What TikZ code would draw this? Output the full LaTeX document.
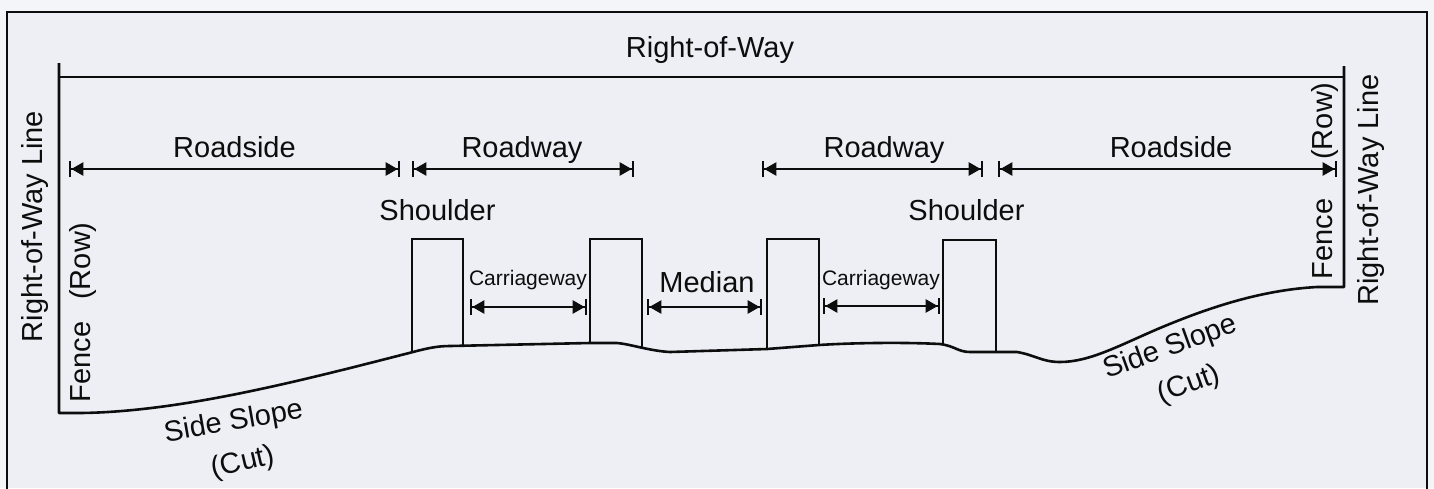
\documentclass[tikz,border=0pt]{standalone}
\usepackage{fontspec}
\setmainfont{Liberation Sans}
\usetikzlibrary{arrows.meta}
\definecolor{bgout}{HTML}{F4F5F9}
\definecolor{bgin}{HTML}{EDEFF5}
\definecolor{ink}{HTML}{0D0D0D}
\tikzset{
  big/.style={font=\fontsize{29}{32}\selectfont, text=ink, inner sep=0pt},
  small/.style={font=\fontsize{21}{24}\selectfont, text=ink, inner sep=0pt},
  frameline/.style={draw=ink, line width=2pt},
  fenceline/.style={draw=ink, line width=2.6pt, line join=round},
  boxline/.style={draw=ink, line width=2.2pt, line join=miter},
  dim/.style={draw=ink, line width=2.3pt,
    {Bar[width=16pt,sep=0pt]Triangle[length=12pt,width=13pt,sep=0pt]}-{Triangle[length=12pt,width=13pt,sep=0pt]Bar[width=16pt,sep=0pt]}},
}
\begin{document}
\begin{tikzpicture}[x=1pt,y=-1pt]
\useasboundingbox (0,0) rectangle (1434,488);
\fill[bgout] (0,0) rectangle (1434,488);
\fill[bgin] (7,12) rectangle (1427,488);
% frame
\draw[frameline] (7,492) -- (7,12) -- (1427,12) -- (1427,492);
% right-of-way top line and fences
\coordinate (rowL) at (59,77);
\coordinate (rowR) at (1344,77);
\draw[frameline] (rowL) -- (rowR);
\node[big, anchor=base] (row) at (710,57) {Right-of-Way};
% ground with fences
\draw[fenceline] (59,63) -- (59,413) -- (80,413)
  .. controls (180,412) and (300,381) .. (413,352)
  .. controls (428,348) and (438,346) .. (450,346)
  -- (590,343) -- (617,343)
  .. controls (630,344) and (650,351) .. (670,352)
  -- (767,349) -- (819,345)
  .. controls (850,343) and (900,342) .. (940,344)
  .. controls (955,346) and (958,352) .. (970,352)
  -- (1017,352)
  .. controls (1035,355) and (1042,362) .. (1060,362)
  .. controls (1090,362) and (1120,345) .. (1160,328)
  .. controls (1210,307) and (1262,290) .. (1317,287)
  -- (1344,287) -- (1344,66);
% shoulder boxes
\draw[boxline] (412,351) -- (412,239) -- (463,239) -- (463,345);
\draw[boxline] (590,343) -- (590,239) -- (642,239) -- (642,348);
\draw[boxline] (767,349) -- (767,239) -- (819,239) -- (819,345);
\draw[boxline] (943,345) -- (943,240) -- (996,240) -- (996,352);
% dimension arrows
\coordinate (rsLa) at (69,169);   \coordinate (rsLb) at (400,169);
\coordinate (rwLa) at (412,169);  \coordinate (rwLb) at (634,169);
\coordinate (rwRa) at (762,169);  \coordinate (rwRb) at (983,169);
\coordinate (rsRa) at (998,169);  \coordinate (rsRb) at (1337,169);
\coordinate (cw1a) at (470,307);  \coordinate (cw1b) at (587,307);
\coordinate (meda) at (647,307);  \coordinate (medb) at (762,307);
\coordinate (cw2a) at (823,306);  \coordinate (cw2b) at (940,306);
\draw[dim] (rsLa) -- (rsLb);
\draw[dim] (rwLa) -- (rwLb);
\draw[dim] (rwRa) -- (rwRb);
\draw[dim] (rsRa) -- (rsRb);
\draw[dim] (cw1a) -- (cw1b);
\draw[dim] (meda) -- (medb);
\draw[dim] (cw2a) -- (cw2b);
% labels
\node[big, anchor=base] (rsL) at (234.5,157) {Roadside};
\node[big, anchor=base] (rwL) at (522,157) {Roadway};
\node[big, anchor=base] (rwR) at (884,157) {Roadway};
\node[big, anchor=base] (rsR) at (1171,157) {Roadside};
\node[big, anchor=base] (shL) at (437.5,220) {Shoulder};
\node[big, anchor=base] (shR) at (966.5,220) {Shoulder};
\node[small, anchor=base] (cw1) at (528,285) {Carriageway};
\node[small, anchor=base] (cw2) at (881,285) {Carriageway};
\node[big, anchor=base] (med) at (707,292) {Median};
\node[big, anchor=base, rotate=90] (rowlineL) at (42,226.5) {Right-of-Way Line};
\node[big, anchor=base, rotate=90] (rowlineR) at (1378,190) {Right-of-Way Line};
\node[big, anchor=base, rotate=90] (fenceL) at (90,362) {Fence};
\node[big, anchor=base, rotate=90] (rowtagL) at (90,261) {(Row)};
\node[big, anchor=base, rotate=90] (fenceR) at (1332,239) {Fence};
\node[big, anchor=base, rotate=90] (rowtagR) at (1332,121) {(Row)};
\node[big, anchor=base, rotate=10] (ssL) at (235,430) {Side Slope};
\node[big, rotate=13] (cutL) at (243,463) {(Cut)};
\node[big, anchor=base, rotate=20] (ssR) at (1173,355) {Side Slope};
\node[big, rotate=20] (cutR) at (1189,385) {(Cut)};
\end{tikzpicture}
\end{document}
